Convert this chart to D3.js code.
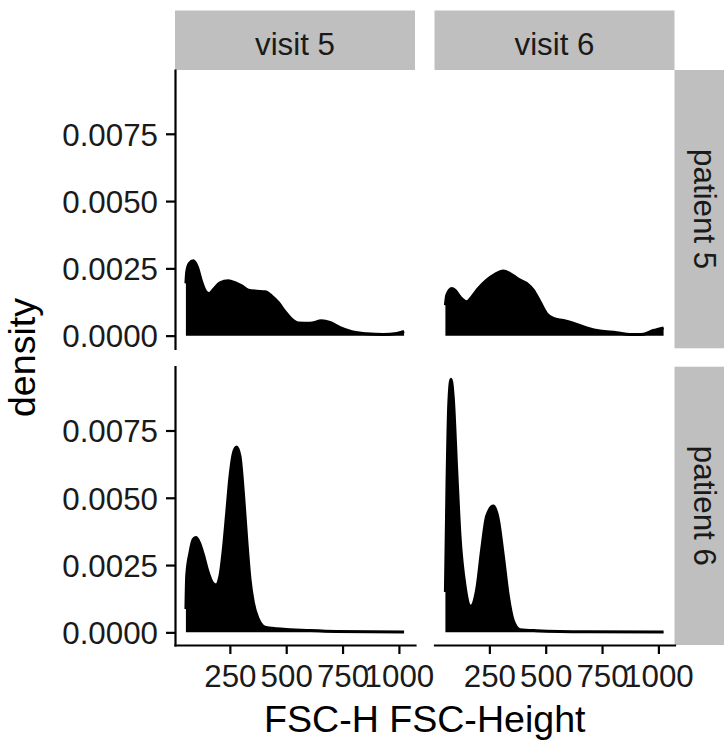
<!DOCTYPE html>
<html>
<head>
<meta charset="utf-8">
<script src="https://cdn.jsdelivr.net/npm/d3@7"></script>
<style>
  html, body { margin: 0; padding: 0; background: #ffffff; }
  svg { display: block; font-family: "Liberation Sans", Arial, Helvetica, sans-serif; }
</style>
</head>
<body>
<svg id="chart" width="724" height="740"></svg>
<script>
// Facet labels
const visits = ["visit 5", "visit 6"];
const patients = ["patient 5", "patient 6"];

// Axis ticks
const xTicks = [250, 500, 750, 1000];
const yTicks = [0, 0.0025, 0.005, 0.0075];

// FSC-H range covered by the density estimates
const fscRange = [55, 1023];

// Kernel density of FSC-Height, [FSC-H, density], one array per patient/visit
const densP5V5 = [
  [55, 0.00194], [58.5, 0.00237], [70, 0.00268], [88, 0.00278], [105.5, 0.00256],
  [125, 0.0020], [144, 0.00163], [159, 0.00157], [176.5, 0.00171], [206, 0.00196],
  [243, 0.00204], [273, 0.00197], [302.5, 0.00185], [332, 0.00169], [369, 0.00165],
  [406, 0.00163], [436, 0.00147], [465, 0.00123], [495, 0.00089], [524, 0.00061],
  [554, 0.00047], [605, 0.00046], [657, 0.00055], [694, 0.00049], [739, 0.0003],
  [791, 0.00015], [857, 0.00007], [931, 0.00004], [990, 0.00008], [1023, 0.00016]
];
const densP5V6 = [
  [55, 0.00113], [60.7, 0.0015], [83, 0.00175], [97.5, 0.00169], [120, 0.00144],
  [149.5, 0.00126], [172, 0.00144], [201, 0.00175], [238, 0.00206], [275, 0.00228],
  [312, 0.0024], [341.5, 0.00231], [378, 0.0021], [415.6, 0.00194], [445, 0.00169],
  [474.7, 0.00126], [504, 0.00082], [534, 0.00064], [578, 0.00056], [622, 0.00046],
  [682, 0.00029], [741, 0.00017], [815, 0.00011], [874, 0.00004], [926, 0.00004],
  [977, 0.00019], [1023, 0.00029]
];
const densP6V5 = [
  [55, 0.00087], [58.5, 0.0021], [73, 0.00297], [88, 0.00346], [99.8, 0.00352],
  [114.5, 0.00334], [132, 0.0029], [154, 0.00223], [174, 0.00183], [188.5, 0.00176],
  [206, 0.0021], [221, 0.00309], [236, 0.00445], [250.6, 0.0058], [265.5, 0.00666],
  [280, 0.00689], [295, 0.00654], [310, 0.00518], [324.7, 0.00346], [339.3, 0.00198],
  [354, 0.00112], [376, 0.0005], [406, 0.00019], [458, 0.00013], [517, 0.0001],
  [591, 0.00007], [724, 0.00003], [872, 0.00002], [1023, 0.00001]
];
const densP6V6 = [
  [55, 0.0015], [62, 0.0055], [70, 0.0085], [79.8, 0.0094], [90, 0.0087],
  [105, 0.00605], [119.7, 0.00358], [142, 0.00173], [167, 0.00097], [194, 0.00161],
  [216, 0.00309], [238, 0.00432], [267.5, 0.00469], [289.7, 0.0042], [312, 0.00284],
  [334, 0.00136], [356, 0.00044], [386, 0.0001], [460, 0.00006], [682, 0.00002],
  [1021, 0.00001], [1023, 0.00001]
];

// rows = patients, columns = visits
const panelData = [
  [densP5V5, densP5V6],
  [densP6V5, densP6V6]
];

// Layout
const panelLeft = [175, 434.5];
const panelTop = [70, 366.7];
const panelW = 240;
const panelH = 278.3;
const stripTop = 10.5;
const stripRight = 674.5;
const stripSize = 60;

const svg = d3.select("#chart");

// Shared scales with 5% expansion on each side
const xSpan = fscRange[1] - fscRange[0];
const x = d3.scaleLinear()
  .domain([fscRange[0] - 0.05 * xSpan, fscRange[1] + 0.05 * xSpan])
  .range([0, panelW]);

const yMax = d3.max(panelData.flat(), s => d3.max(s, d => d[1]));
const y = d3.scaleLinear()
  .domain([-0.05 * yMax, 1.05 * yMax])
  .range([panelH, 0]);

const area = d3.area()
  .x(d => x(d[0]))
  .y0(y(0))
  .y1(d => y(d[1]))
  .curve(d3.curveMonotoneX);

const line = d3.line()
  .x(d => x(d[0]))
  .y(d => y(d[1]))
  .curve(d3.curveMonotoneX);

const textCol = "#1a1a1a";
const tickFont = 31.3;
const titleFont = 37.6;

// Column strips
visits.forEach((v, c) => {
  svg.append("rect")
    .attr("x", panelLeft[c]).attr("y", stripTop)
    .attr("width", panelW).attr("height", panelTop[0] - stripTop)
    .attr("fill", "#bfbfbf");
  svg.append("text")
    .attr("x", panelLeft[c] + panelW / 2).attr("y", 55)
    .attr("text-anchor", "middle")
    .attr("font-size", tickFont).attr("fill", textCol)
    .text(v);
});

// Row strips
patients.forEach((p, r) => {
  svg.append("rect")
    .attr("x", stripRight).attr("y", panelTop[r])
    .attr("width", stripSize).attr("height", panelH)
    .attr("fill", "#bfbfbf");
  const cy = panelTop[r] + panelH / 2;
  svg.append("text")
    .attr("transform", `translate(693.5,${cy}) rotate(90)`)
    .attr("text-anchor", "middle")
    .attr("font-size", tickFont).attr("fill", textCol)
    .text(p);
});

// Panels
panelData.forEach((row, r) => {
  row.forEach((series, c) => {
    const g = svg.append("g")
      .attr("transform", `translate(${panelLeft[c]},${panelTop[r]})`);

    g.append("path").datum(series)
      .attr("d", area)
      .attr("fill", "#000000");
    g.append("path").datum(series)
      .attr("d", line)
      .attr("fill", "none")
      .attr("stroke", "#000000")
      .attr("stroke-width", 3)
      .attr("stroke-linejoin", "round");

    // y axis on the first column
    if (c === 0) {
      const ya = g.append("g")
        .call(d3.axisLeft(y).tickValues(yTicks).tickSize(9).tickSizeOuter(0)
          .tickPadding(8).tickFormat(d3.format(".4f")));
      ya.select(".domain").attr("stroke", "#000").attr("stroke-width", 2.2)
        .attr("stroke-linecap", "square");
      ya.selectAll(".tick line").attr("stroke", "#000").attr("stroke-width", 2.2);
      ya.selectAll(".tick text")
        .attr("font-size", tickFont).attr("fill", textCol)
        .attr("font-family", null).attr("dy", "0.36em");
    }

    // x axis on the bottom row
    if (r === panelData.length - 1) {
      const xa = g.append("g")
        .attr("transform", `translate(0,${panelH})`)
        .call(d3.axisBottom(x).tickValues(xTicks).tickSize(9).tickSizeOuter(0)
          .tickPadding(8).tickFormat(d3.format("d")));
      xa.select(".domain").attr("stroke", "#000").attr("stroke-width", 2.2)
        .attr("stroke-linecap", "square");
      xa.selectAll(".tick line").attr("stroke", "#000").attr("stroke-width", 2.2);
      xa.selectAll(".tick text")
        .attr("font-size", tickFont).attr("fill", textCol)
        .attr("font-family", null)
        .attr("y", 0).attr("dy", null)
        .attr("transform", "translate(0,41.5)");
    }
  });
});

// Axis titles
svg.append("text")
  .attr("x", (panelLeft[0] + panelLeft[1] + panelW) / 2)
  .attr("y", 731.5)
  .attr("text-anchor", "middle")
  .attr("font-size", titleFont).attr("fill", "#000")
  .text("FSC-H FSC-Height");

svg.append("text")
  .attr("transform", `translate(34.5,${(panelTop[0] + panelTop[1] + panelH) / 2}) rotate(-90)`)
  .attr("text-anchor", "middle")
  .attr("font-size", titleFont).attr("fill", "#000")
  .text("density");
</script>
</body>
</html>
